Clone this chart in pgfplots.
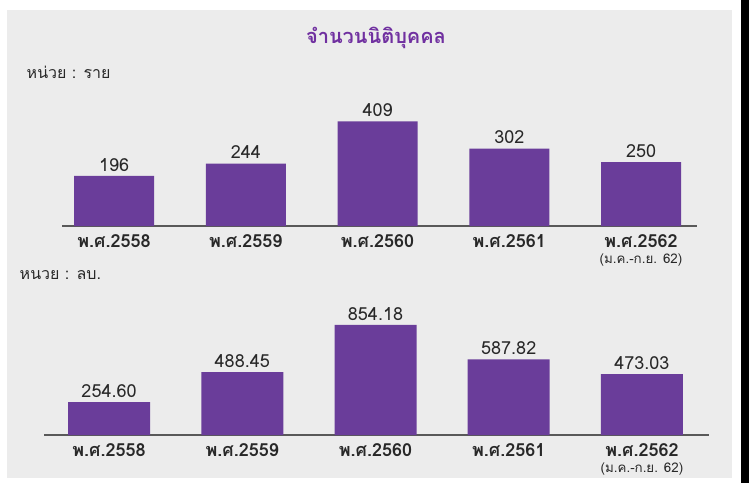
\documentclass[border=0pt]{standalone}
\usepackage{fontspec}
\setmainfont[Script=Thai]{Loma}
\usepackage{pgfplots}
\pgfplotsset{compat=1.18}
\definecolor{barpurple}{RGB}{106,61,154}
\definecolor{titlepurple}{RGB}{112,48,160}
\definecolor{panelgray}{RGB}{236,236,236}
\definecolor{txt}{RGB}{40,40,40}

\pgfplotsset{mybars/.style={
    scale only axis, ybar, ymin=0, clip=false,
    axis x line=bottom, axis y line=none,
    axis line style={-, draw=black!65, line width=1pt},
    xtick=data, major tick length=0pt,
    xticklabel style={font=\bfseries\fontsize{13.5}{15}\selectfont, align=center, text=txt, anchor=north, yshift=-3pt},
    xticklabels={{พ.ศ.2558},{พ.ศ.2559},{พ.ศ.2560},{พ.ศ.2561},{พ.ศ.2562\\[-3pt]{\mdseries\fontsize{10}{12}\selectfont (ม.ค.-ก.ย. 62)}}},
    nodes near coords, point meta=explicit symbolic,
    every node near coord/.append style={font=\fontsize{13.5}{16}\selectfont, text=txt}
}}

\begin{document}
\begin{tikzpicture}[x=0.75pt,y=0.75pt]
\fill[white] (0,0) rectangle (749,483);
\fill[panelgray] (7,5) rectangle (732,473);
\fill[black] (741,0) rectangle (749,483);
\node[font=\bfseries\fontsize{15}{18}\selectfont, text=titlepurple] at (376,445) {จำนวนนิติบุคคล};
\node[anchor=west, font=\fontsize{12}{14}\selectfont, text=txt] at (22,411) {หน่วย : ราย};
\node[anchor=west, font=\fontsize{12}{14}\selectfont, text=txt] at (15,208) {หนวย : ลบ.};

\begin{axis}[mybars, at={(46.5pt,192.75pt)}, anchor=south west,
    width=476.25pt, height=82.5pt, bar width=60pt,
    xmin=-0.395, xmax=4.425, ymax=430]
\addplot[fill=barpurple, draw=none] coordinates {(0,196)[196] (1,244)[244] (2,409)[409] (3,302)[302] (4,250)[250]};
\end{axis}

\begin{axis}[mybars, at={(33pt,36pt)}, anchor=south west,
    width=498.75pt, height=85pt, bar width=61.5pt,
    xmin=-0.488, xmax=4.503, ymax=880]
\addplot[fill=barpurple, draw=none] coordinates {(0,254.60)[254.60] (1,488.45)[488.45] (2,854.18)[854.18] (3,587.82)[587.82] (4,473.03)[473.03]};
\end{axis}
\end{tikzpicture}
\end{document}
